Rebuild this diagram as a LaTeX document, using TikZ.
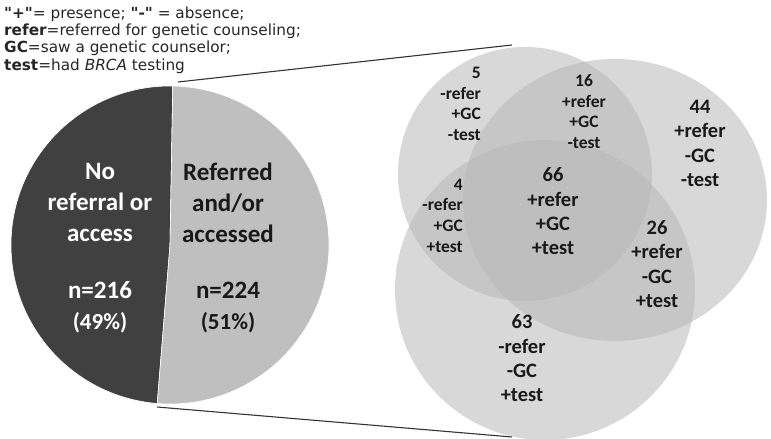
\documentclass[tikz,border=0pt]{standalone}
\usepackage{fontspec}
\setmainfont{DejaVu Sans}
\newfontfamily\calib{Carlito}
\usetikzlibrary{positioning}

\definecolor{pieDark}{gray}{0.25}
\definecolor{pieLight}{gray}{0.75}
\definecolor{vennGray}{gray}{0.72}
\definecolor{zoomLine}{gray}{0.2}

\begin{document}
\begin{tikzpicture}[x=1pt, y=1pt,
    every node/.style={inner sep=0pt, align=center},
    slice/.style={draw=white, line width=0.6pt},
    venn/.style={fill=vennGray, fill opacity=0.55},
    piebig/.style={font=\calib\bfseries\fontsize{25}{31}\selectfont},
    vennbig/.style={font=\calib\bfseries\fontsize{20.5}{24.3}\selectfont, text=black!90},
    vennsmall/.style={font=\calib\bfseries\fontsize{17.5}{20.6}\selectfont, text=black!90, align=right},
    legend/.style={font=\fontsize{15.3}{17.3}\selectfont, align=left, text=black!85}
    ]
    \useasboundingbox (0,0) rectangle (771,439);

    % pie
    \coordinate (pc) at (170,194);
    \fill[pieDark, slice] (pc) -- ++(89:159pt)
        arc[start angle=89, end angle=265.4, radius=159pt] -- cycle;
    \fill[pieLight, slice] (pc) -- ++(265.4:159pt)
        arc[start angle=265.4, end angle=449, radius=159pt] -- cycle;

    \node[piebig, text=white] (noref) at (100,236.5) {No\\referral or\\access};
    \node[piebig, text=white] (nonum) at (100,131.5) {n=216\\{\fontsize{23}{25}\selectfont (49\%)}};
    \node[piebig, text=black!90] (ref) at (228,236.5) {Referred\\and/or\\accessed};
    \node[piebig, text=black!90] (refnum) at (228,131.5) {n=224\\{\fontsize{23}{25}\selectfont (51\%)}};

    % venn
    \fill[venn] (525,265) circle[radius=127pt];
    \fill[venn] (615,239) ellipse[x radius=152pt, y radius=141pt];
    \fill[venn] (545,149) circle[radius=150pt];

    \node[vennsmall, anchor=east] (gconly) at (481,335) {5\\-refer\\+GC\\-test};
    \node[vennsmall, align=center] (refgc) at (584,327.5) {16\\+refer\\+GC\\-test};
    \node[vennsmall, anchor=east] (gctest) at (463,223.5) {4\\-refer\\+GC\\+test};
    \node[vennbig] (all) at (553,227.5) {66\\+refer\\+GC\\+test};
    \node[vennbig] (refonly) at (700,295.5) {44\\+refer\\-GC\\-test};
    \node[vennbig] (reftest) at (657,175) {26\\+refer\\-GC\\+test};
    \node[vennbig] (testonly) at (522,80.5) {63\\-refer\\-GC\\+test};

    % key
    \node[legend, anchor=west] (key) at (4,399) {\textbf{\textquotedbl+\textquotedbl}= presence; \textbf{\textquotedbl-\textquotedbl} = absence;\\
        \textbf{refer}=referred for genetic counseling;\\
        \textbf{GC}=saw a genetic counselor;\\
        \textbf{test}=had \textit{BRCA} testing};

    % zoom lines
    \coordinate (piehi) at (178,357);
    \coordinate (vennhi) at (512,394);
    \coordinate (pielo) at (157,32);
    \coordinate (vennlo) at (512,2);
    \draw[zoomLine, line width=1.1pt] (piehi) -- (vennhi);
    \draw[zoomLine, line width=1.1pt] (pielo) -- (vennlo);
\end{tikzpicture}
\end{document}
